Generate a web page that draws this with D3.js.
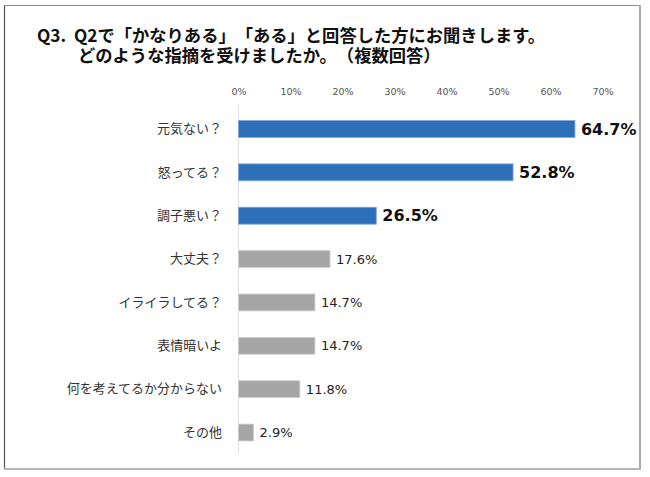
<!DOCTYPE html>
<html><head><meta charset="utf-8">
<script src="https://cdn.jsdelivr.net/npm/d3@7"></script>
<style>html,body{margin:0;padding:0;background:#fff;}svg{display:block;}
text{text-spacing-trim: space-all; white-space: pre;}</style>
</head><body>
<script>
const titleLines = ["Q3.  Q2で「かなりある」「ある」と回答した方にお聞きします。", "どのような指摘を受けましたか。（複数回答）"];
const categories = ["元気ない？","怒ってる？","調子悪い？","大丈夫？","イライラしてる？","表情暗いよ","何を考えてるか分からない","その他"];
const values = [64.7, 52.8, 26.5, 17.6, 14.7, 14.7, 11.8, 2.9];
const highlighted = [true, true, true, false, false, false, false, false];
const tickValues = [0,10,20,30,40,50,60,70];

const W = 650, H = 477;
const svg = d3.select("body").append("svg").attr("width", W).attr("height", H);
svg.append("rect").attr("width", W).attr("height", H).attr("fill", "#fff");

// frame
svg.append("line").attr("x1",4.5).attr("x2",4.5).attr("y1",5).attr("y2",470).attr("stroke","#555").attr("stroke-width",1.2);
svg.append("line").attr("x1",4).attr("x2",641).attr("y1",5.5).attr("y2",5.5).attr("stroke","#888").attr("stroke-width",1);
svg.append("line").attr("x1",640).attr("x2",640).attr("y1",5).attr("y2",470).attr("stroke","#aaa").attr("stroke-width",2);
svg.append("line").attr("x1",4).attr("x2",641).attr("y1",469).attr("y2",469).attr("stroke","#b5b5b5").attr("stroke-width",2);

// title
const jp = "'Noto Sans CJK JP', sans-serif";
svg.append("text").attr("x",37).attr("y",41.5).attr("xml:space","preserve").text(titleLines[0])
  .attr("font-family",jp).attr("font-weight","bold").attr("font-size",17.3).attr("fill","#111");
svg.append("text").attr("x",78).attr("y",62).text(titleLines[1])
  .attr("font-family",jp).attr("font-weight","bold").attr("font-size",17.3).attr("fill","#111");

const x = d3.scaleLinear().domain([0,70]).range([238.5, 602.5]);
const y = d3.scaleBand().domain(categories).range([107.3, 454.2]).paddingInner(0.61).paddingOuter(0.305);

// axis
const ax = svg.append("g").attr("transform","translate(0,95)")
  .call(d3.axisTop(x).tickValues(tickValues).tickFormat(d => d + "%").tickSize(0).tickPadding(0));
ax.select(".domain").remove();
ax.selectAll("text").attr("font-family","'DejaVu Sans', sans-serif").attr("font-size",9.5).attr("fill","#555");

svg.append("line").attr("x1",x(0)).attr("x2",x(0)).attr("y1",105).attr("y2",453).attr("stroke","#e0e0e0").attr("stroke-width",1);

// categories
const cy = svg.append("g").attr("transform",`translate(222,0)`)
  .call(d3.axisLeft(y).tickSize(0).tickPadding(0));
cy.select(".domain").remove();
cy.selectAll("text").attr("font-family",jp).attr("font-size",13).attr("fill","#333");

const data = categories.map((c,i) => ({c, v: values[i], h: highlighted[i]}));
svg.selectAll("rect.bar").data(data).enter().append("rect").attr("class","bar")
  .attr("x", x(0)).attr("y", d => y(d.c)).attr("width", d => x(d.v) - x(0)).attr("height", y.bandwidth())
  .attr("fill", d => d.h ? "#2E6FBA" : "#A6A6A6")
  .attr("stroke", d => d.h ? "#7fa7d8" : "#d0d0d0").attr("stroke-width", 0.8);

svg.selectAll("text.val").data(data).enter().append("text").attr("class","val")
  .attr("x", d => x(d.v) + 6).attr("y", d => y(d.c) + y.bandwidth()/2)
  .attr("dy","0.36em")
  .attr("font-family","'DejaVu Sans', sans-serif")
  .attr("font-weight", d => d.h ? "bold" : "normal")
  .attr("font-size", d => d.h ? 16 : 13)
  .attr("fill", d => d.h ? "#111" : "#222")
  .text(d => d.v.toFixed(1) + "%");
</script>
</body></html>
